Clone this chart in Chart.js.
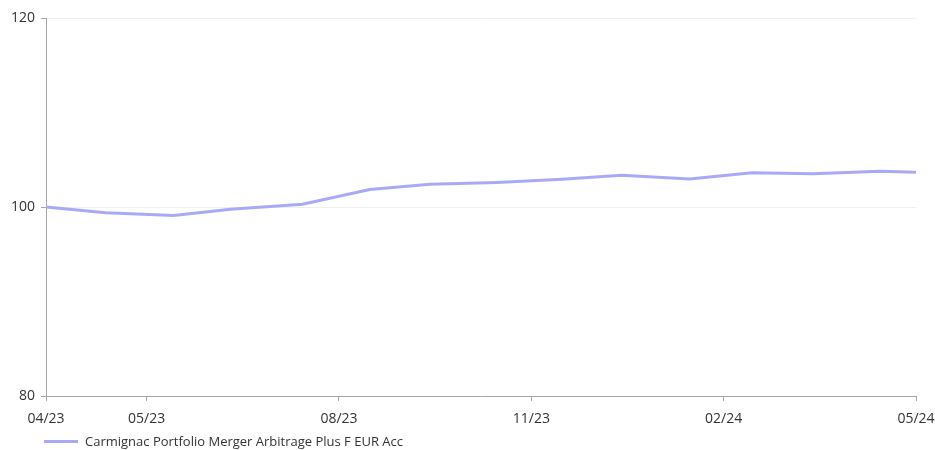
<!DOCTYPE html>
<html>
<head>
<meta charset="utf-8">
<script src="https://cdn.jsdelivr.net/npm/chart.js@4.4.0/dist/chart.umd.min.js"></script>
<style>
  html, body { margin: 0; padding: 0; background: #fff; }
  #wrap { width: 935px; height: 450px; position: relative; }
</style>
</head>
<body>
<div id="wrap"><canvas id="myChart"></canvas></div>
<script>
// x positions in months counted from 04/2023 (1 = 05/23, 13 = 05/24)
const monthPos = [-0.57, 0.36, 1.42, 2.31, 3.43, 4.48, 5.42, 6.46, 7.48, 8.41, 9.47, 10.44, 11.39, 12.44, 13];
const fundValues = [100.0, 99.4, 99.1, 99.77, 100.29, 101.85, 102.4, 102.6, 102.93, 103.35, 102.96, 103.63, 103.52, 103.78, 103.67];
const fundName = "Carmignac Portfolio Merger Arbitrage Plus F EUR Acc";
const xTickPos = [-0.57, 1, 4, 7, 10, 13];
const xTickLabels = ["04/23", "05/23", "08/23", "11/23", "02/24", "05/24"];
const yTicks = [80, 100, 120];

const lineColor = "#a9aaf7";
const textColor = "#333333";
const fontFamily = "'Open Sans', sans-serif";

let points = monthPos.map((m, i) => ({ x: m, y: fundValues[i] }));

// legend drawn at the bottom left, under the axis labels
const bottomLegend = {
  id: "bottomLegend",
  afterDraw(chart) {
    let c = chart.ctx;
    let ds = chart.data.datasets[0];
    c.save();
    c.strokeStyle = ds.borderColor;
    c.lineWidth = 3;
    c.beginPath();
    c.moveTo(44, 441.5);
    c.lineTo(78, 441.5);
    c.stroke();
    c.fillStyle = textColor;
    c.font = "13px " + fontFamily;
    c.textBaseline = "middle";
    c.fillText(ds.label, 85, 442);
    c.restore();
  },
};

let ctx = document.getElementById("myChart").getContext("2d");
let myChart = new Chart(ctx, {
  type: "line",
  data: {
    datasets: [
      {
        label: fundName,
        data: points,
        borderColor: lineColor,
        backgroundColor: lineColor,
        borderWidth: 3,
        pointRadius: 0,
        tension: 0,
      },
    ],
  },
  options: {
    responsive: true,
    maintainAspectRatio: false,
    animation: false,
    layout: { padding: { top: 18, right: 0, left: 0, bottom: 0 } },
    plugins: {
      legend: { display: false },
      tooltip: { enabled: false },
    },
    scales: {
      x: {
        type: "linear",
        min: xTickPos[0],
        max: xTickPos[xTickPos.length - 1],
        afterFit(scale) {
          scale.height = 54;
          scale.paddingRight = 19;
          scale.paddingLeft = 0;
        },
        afterBuildTicks(scale) {
          scale.ticks = xTickPos.map((v) => ({ value: v }));
        },
        grid: {
          drawOnChartArea: false,
          drawTicks: true,
          tickLength: 5,
          color: "#a6a6a6",
        },
        border: { color: "#a6a6a6", width: 1 },
        ticks: {
          autoSkip: false,
          maxRotation: 0,
          padding: 10,
          color: textColor,
          font: { family: fontFamily, size: 14 },
          callback: (v, i) => xTickLabels[i],
        },
      },
      y: {
        min: 80,
        max: 120,
        afterFit(scale) { scale.width = 46; },
        afterBuildTicks(scale) {
          scale.ticks = yTicks.map((v) => ({ value: v }));
        },
        grid: {
          color: "#efefef",
          tickColor: "#a6a6a6",
          tickLength: 5,
        },
        border: { color: "#a6a6a6", width: 1 },
        ticks: {
          padding: 6,
          color: textColor,
          font: { family: fontFamily, size: 14 },
        },
      },
    },
  },
  plugins: [bottomLegend],
});
</script>
</body>
</html>
